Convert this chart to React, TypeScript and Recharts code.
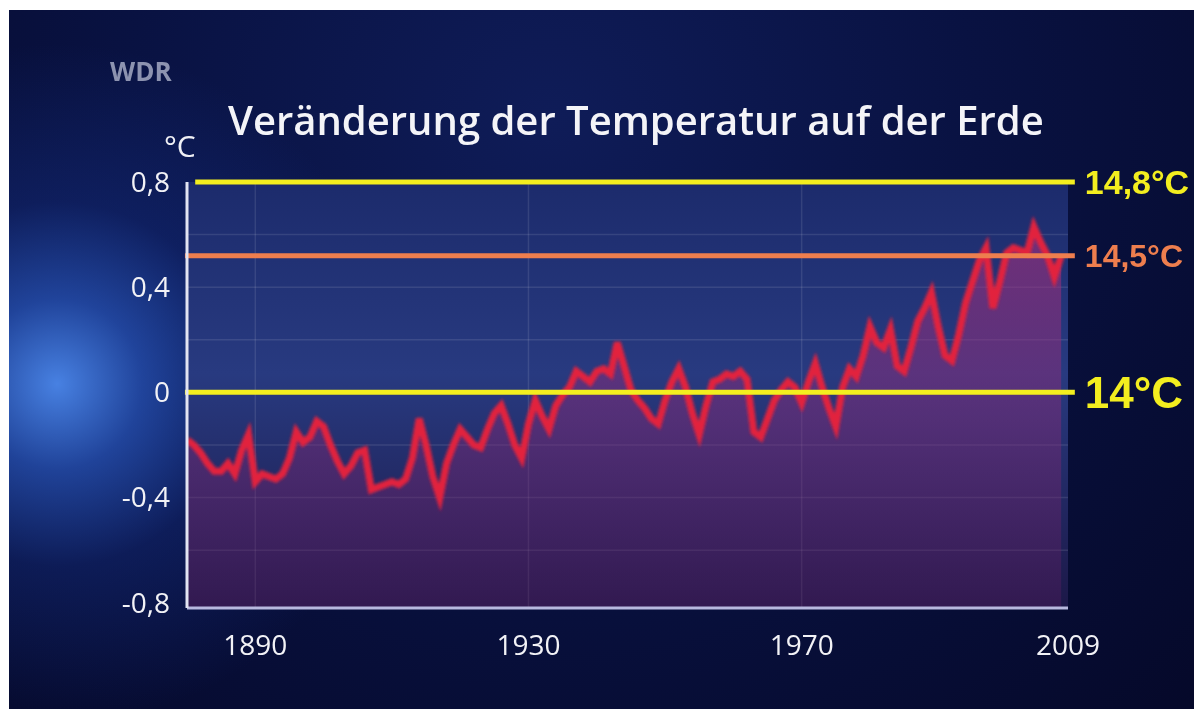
import React from 'react';
import { ComposedChart, Line, Area, XAxis, YAxis, CartesianGrid, ReferenceLine } from 'recharts';

const years = [
  1880, 1881, 1882, 1883, 1884, 1885, 1886, 1887, 1888, 1889,
  1890, 1891, 1892, 1893, 1894, 1895, 1896, 1897, 1898, 1899,
  1900, 1901, 1902, 1903, 1904, 1905, 1906, 1907, 1908, 1909,
  1910, 1911, 1912, 1913, 1914, 1915, 1916, 1917, 1918, 1919,
  1920, 1921, 1922, 1923, 1924, 1925, 1926, 1927, 1928, 1929,
  1930, 1931, 1932, 1933, 1934, 1935, 1936, 1937, 1938, 1939,
  1940, 1941, 1942, 1943, 1944, 1945, 1946, 1947, 1948, 1949,
  1950, 1951, 1952, 1953, 1954, 1955, 1956, 1957, 1958, 1959,
  1960, 1961, 1962, 1963, 1964, 1965, 1966, 1967, 1968, 1969,
  1970, 1971, 1972, 1973, 1974, 1975, 1976, 1977, 1978, 1979,
  1980, 1981, 1982, 1983, 1984, 1985, 1986, 1987, 1988, 1989,
  1990, 1991, 1992, 1993, 1994, 1995, 1996, 1997, 1998, 1999,
  2000, 2001, 2002, 2003, 2004, 2005, 2006, 2007, 2008,
];

const anomalies = [
  -0.18, -0.20, -0.23, -0.27, -0.30, -0.30, -0.27, -0.31, -0.22, -0.16,
  -0.34, -0.31, -0.32, -0.33, -0.31, -0.25, -0.15, -0.19, -0.17, -0.11,
  -0.13, -0.20, -0.26, -0.31, -0.28, -0.23, -0.22, -0.37, -0.36, -0.35,
  -0.34, -0.35, -0.33, -0.25, -0.10, -0.20, -0.32, -0.40, -0.27, -0.20,
  -0.14, -0.17, -0.20, -0.21, -0.14, -0.08, -0.05, -0.12, -0.20, -0.25,
  -0.12, -0.03, -0.09, -0.14, -0.05, -0.01, 0.02, 0.08, 0.06, 0.04,
  0.08, 0.09, 0.07, 0.19, 0.10, 0.01, -0.03, -0.06, -0.10, -0.12,
  -0.03, 0.04, 0.09, 0.02, -0.08, -0.16, -0.05, 0.04, 0.05, 0.07,
  0.06, 0.08, 0.05, -0.15, -0.17, -0.10, -0.03, 0.01, 0.04, 0.02,
  -0.04, 0.04, 0.11, 0.02, -0.06, -0.13, 0.02, 0.09, 0.06, 0.14,
  0.25, 0.19, 0.17, 0.24, 0.10, 0.08, 0.17, 0.27, 0.32, 0.38,
  0.25, 0.14, 0.12, 0.22, 0.34, 0.42, 0.50, 0.55, 0.32, 0.42,
  0.53, 0.55, 0.54, 0.53, 0.63, 0.57, 0.52, 0.44, 0.52,
];

const xTicks = [1890, 1930, 1970, 2009];
const yTicks = [-0.8, -0.4, 0, 0.4, 0.8];
const gridYears = [1890, 1930, 1970];
const gridValues = [0.6, 0.4, 0.2, -0.2, -0.4, -0.6];

const refValues = [0.8, 0.52, 0];
const refLabels = ['14,8°C', '14,5°C', '14°C'];
const refColors = ['#f3ee1f', '#ee7e4e', '#f3ee1f'];
const refFontSizes = [34, 32, 44];
const refStarts = [1881.2, 1879.7, 1879.7];
const refEnd = 2010;

const titleText = 'Veränderung der Temperatur auf der Erde';
const channelText = 'WDR';
const unitText = '°C';

const data = years.map((year, i) => ({ year, temp: anomalies[i] }));

const fmt = (v: number) => String(v).replace('.', ',');

export default function App() {
  return (
    <div
      style={{
        position: 'fixed',
        left: 9,
        top: 10,
        right: -20,
        bottom: -20,
        overflow: 'hidden',
        background:
          'radial-gradient(circle at 4% 52%, rgba(75,135,235,0.95) 0%, rgba(45,95,205,0.65) 7%, rgba(25,55,150,0.35) 15%, rgba(10,20,80,0) 28%), radial-gradient(ellipse at 45% 15%, #0f1c58 0%, #091242 45%, #050828 100%)',
        fontFamily: '"Open Sans", sans-serif',
      }}
    >
      <div
        style={{
          position: 'absolute',
          left: 101,
          top: 48,
          fontSize: 26,
          fontWeight: 700,
          lineHeight: 1,
          color: '#8d93b0',
          whiteSpace: 'nowrap',
        }}
      >
        {channelText}
      </div>
      <div
        style={{
          position: 'absolute',
          left: 219,
          top: 90,
          fontSize: 40,
          fontWeight: 600,
          lineHeight: 1,
          color: '#f4f4f8',
          whiteSpace: 'nowrap',
        }}
      >
        {titleText}
      </div>
      <div
        style={{
          position: 'absolute',
          left: 155,
          top: 121,
          fontSize: 30,
          fontWeight: 400,
          lineHeight: 1,
          color: '#f0f0f5',
          whiteSpace: 'nowrap',
        }}
      >
        {unitText}
      </div>
      <div style={{ position: 'absolute', left: 0, top: 0 }}>
        <ComposedChart
          width={1185}
          height={699}
          data={data}
          margin={{ top: 172, right: 126, bottom: 41, left: 108 }}
        >
          <defs>
            <linearGradient id="plotBg" x1="0" y1="0" x2="0" y2="1">
              <stop offset="0%" stopColor="#1c2b6c" />
              <stop offset="45%" stopColor="#283a80" />
              <stop offset="100%" stopColor="#1c1848" />
            </linearGradient>
            <linearGradient id="underFill" x1="0" y1="0" x2="0" y2="1">
              <stop offset="0%" stopColor="#a8307e" stopOpacity={0.6} />
              <stop offset="50%" stopColor="#8a2a78" stopOpacity={0.45} />
              <stop offset="100%" stopColor="#5a1c60" stopOpacity={0.35} />
            </linearGradient>
            <filter id="soft" x="-5%" y="-20%" width="110%" height="140%">
              <feGaussianBlur stdDeviation="1.5" />
            </filter>
          </defs>
          <CartesianGrid
            fill="url(#plotBg)"
            fillOpacity={1}
            stroke="rgba(255,255,255,0.10)"
            strokeWidth={1.5}
            horizontalValues={gridValues}
            verticalValues={gridYears}
          />
          <XAxis
            dataKey="year"
            type="number"
            domain={[1880, 2009]}
            ticks={xTicks}
            tickLine={false}
            tickSize={0}
            tickMargin={27}
            height={60}
            axisLine={{ stroke: '#b8b9df', strokeWidth: 3 }}
            tick={{ fill: '#f2f2f6', fontSize: 28, fontFamily: '"Open Sans", sans-serif' }}
            allowDataOverflow
          />
          <YAxis
            type="number"
            domain={[-0.82, 0.8]}
            ticks={yTicks}
            tickFormatter={fmt}
            tickLine={false}
            tickSize={0}
            tickMargin={17}
            width={70}
            axisLine={{ stroke: '#e2e4f2', strokeWidth: 3 }}
            tick={{ fill: '#f2f2f6', fontSize: 28, fontFamily: '"Open Sans", sans-serif' }}
            allowDataOverflow
          />
          <Area
            type="linear"
            dataKey="temp"
            baseValue={-0.82}
            stroke="none"
            fill="url(#underFill)"
            fillOpacity={1}
            isAnimationActive={false}
          />
          <Line
            type="linear"
            dataKey="temp"
            stroke="#e2203e"
            strokeWidth={7}
            dot={false}
            filter="url(#soft)"
            isAnimationActive={false}
          />
          {refValues.map((v, i) => (
            <ReferenceLine
              key={refLabels[i]}
              segment={[
                { x: refStarts[i], y: v },
                { x: refEnd, y: v },
              ]}
              ifOverflow="visible"
              stroke={refColors[i]}
              strokeWidth={5}
              label={{
                value: refLabels[i],
                position: 'right',
                offset: 10,
                fill: refColors[i],
                fontSize: refFontSizes[i],
                fontWeight: 700,
                fontFamily: '"Liberation Sans", Arial, sans-serif',
              }}
            />
          ))}
        </ComposedChart>
      </div>
    </div>
  );
}
